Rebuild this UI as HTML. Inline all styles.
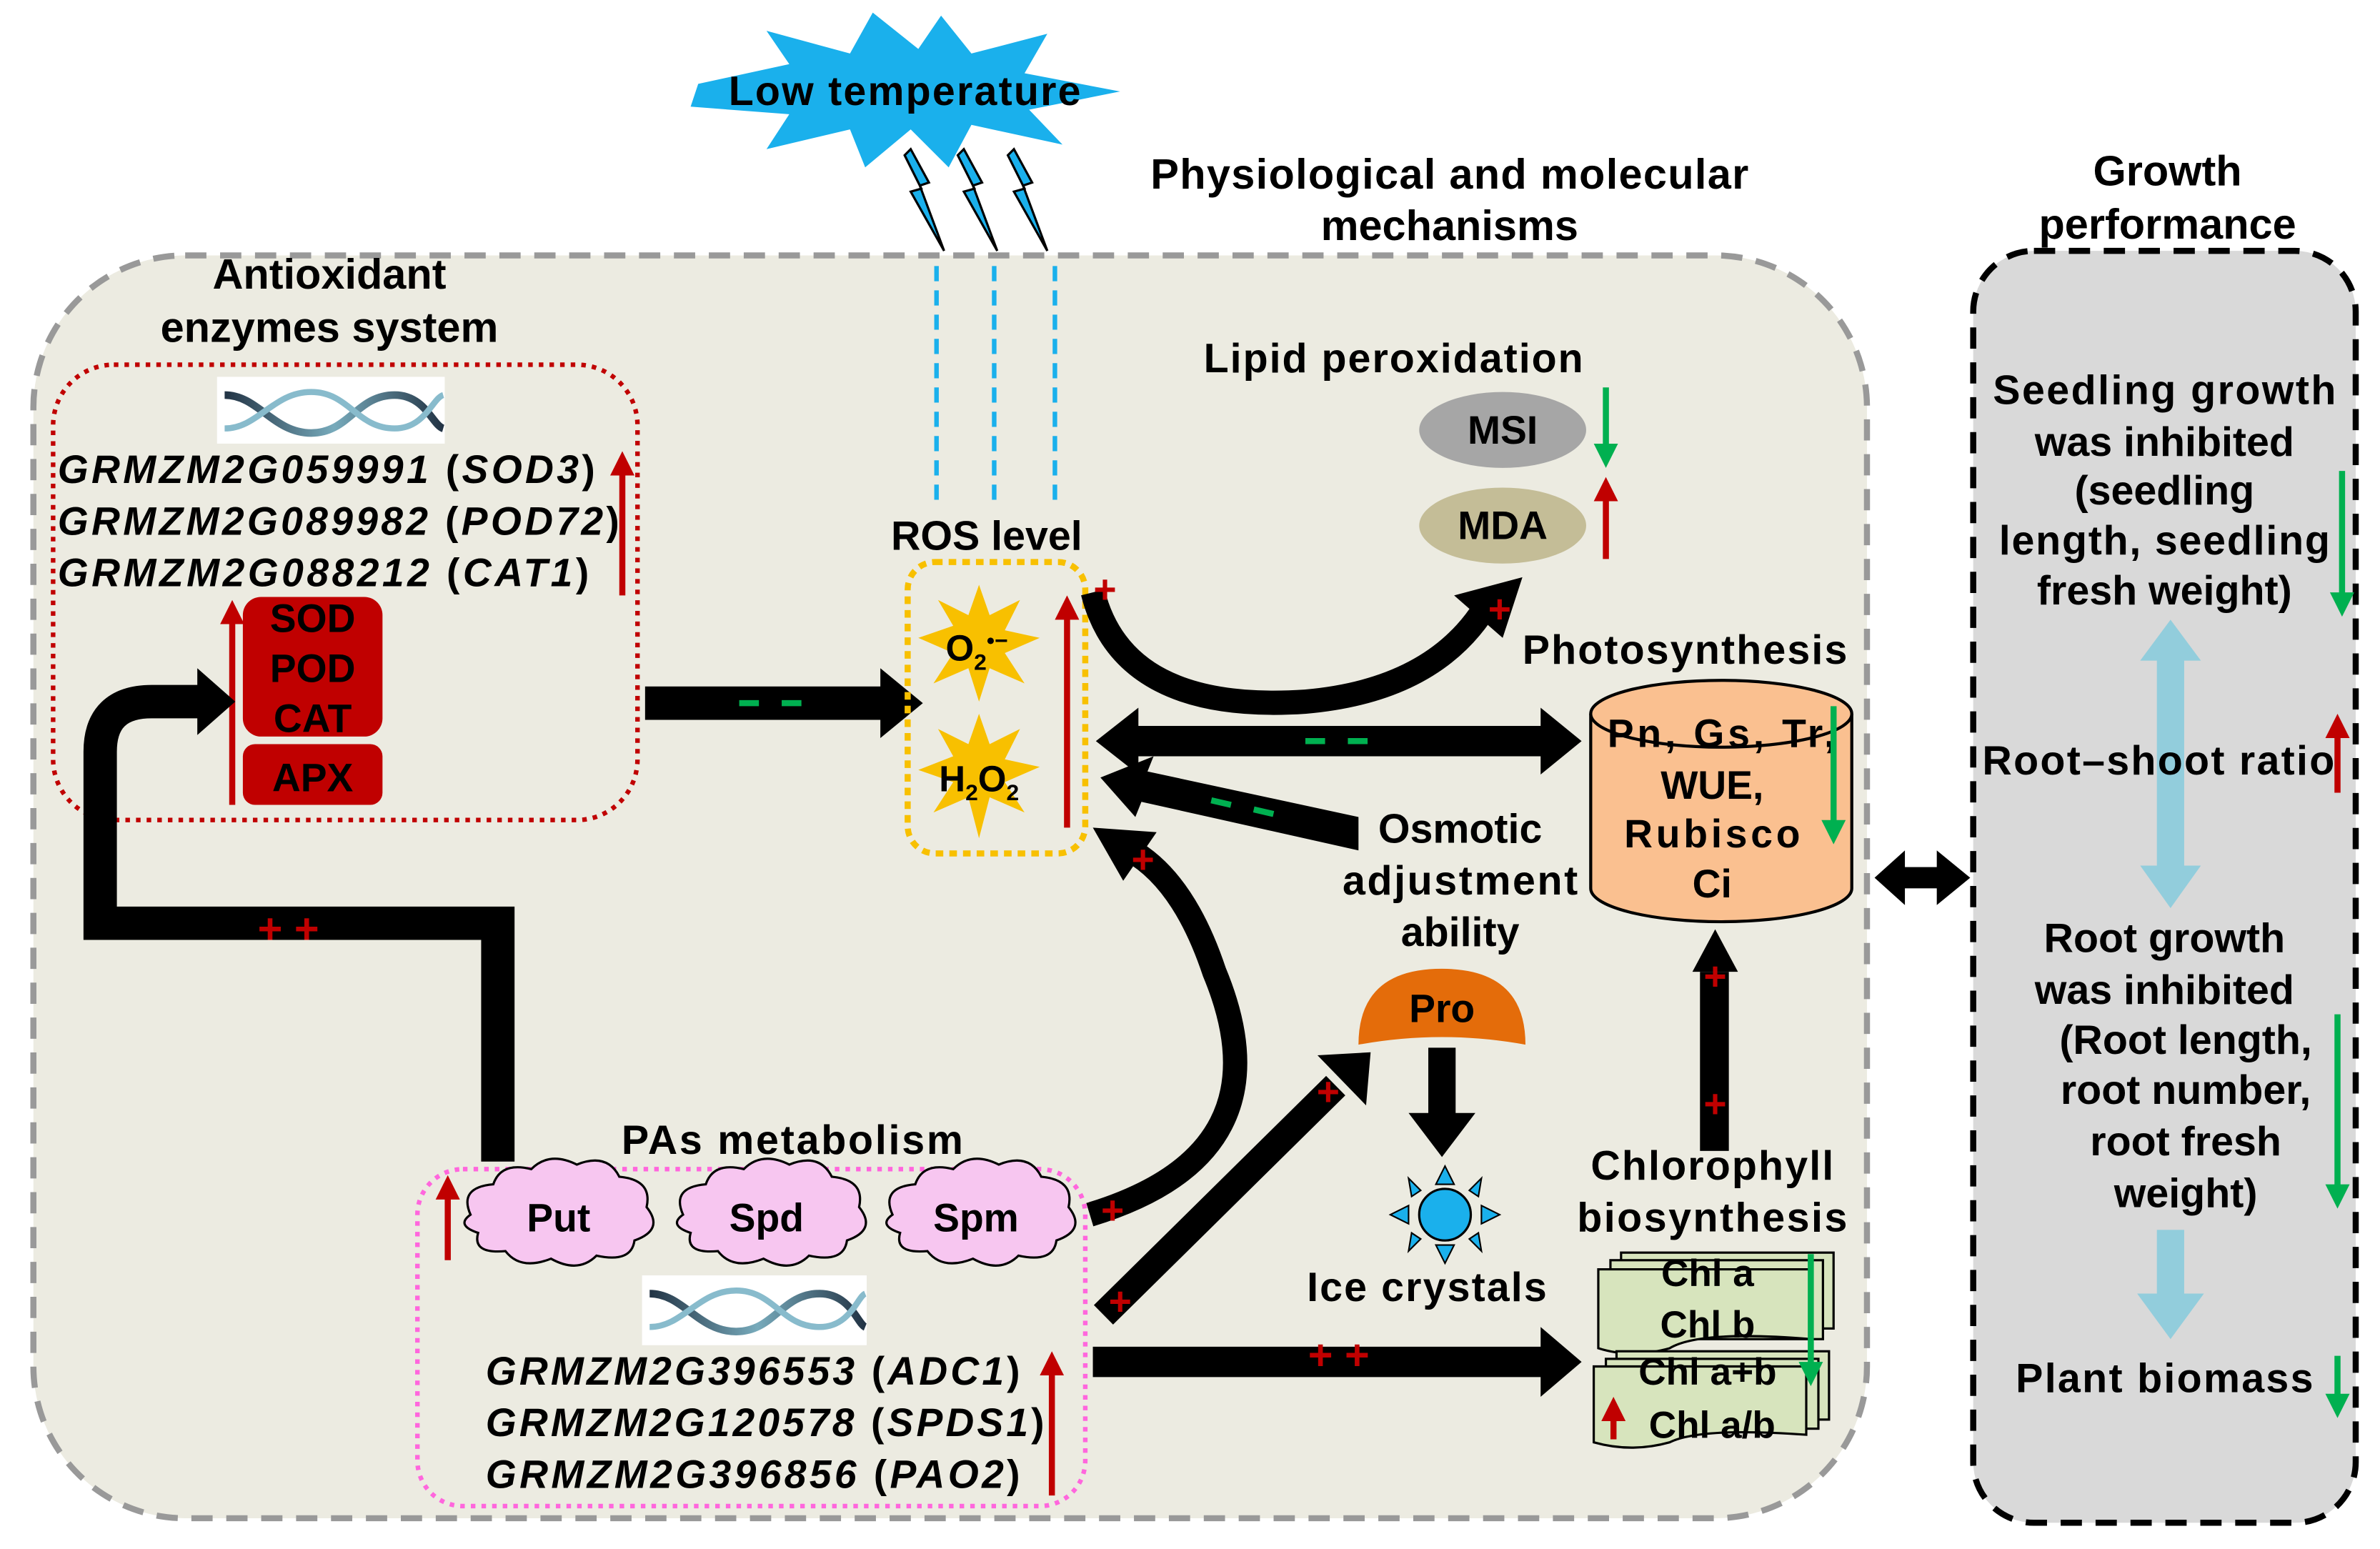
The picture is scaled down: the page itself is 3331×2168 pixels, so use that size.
<!DOCTYPE html>
<html><head><meta charset="utf-8"><style>
html,body{margin:0;padding:0;background:#fff}
svg{display:block}
text{font-family:"Liberation Sans",Arial,sans-serif;font-weight:bold;fill:#000}
</style></head><body>
<svg width="3331" height="2168" viewBox="0 0 1568 1020" xmlns="http://www.w3.org/2000/svg">
<defs>
<marker id="rh" markerWidth="4" markerHeight="4" refX="2" refY="2" orient="auto" markerUnits="strokeWidth"><path d="M0,0 L4,2 L0,4z" fill="#c00000"/></marker>
<marker id="gh" markerWidth="4" markerHeight="4" refX="2" refY="2" orient="auto" markerUnits="strokeWidth"><path d="M0,0 L4,2 L0,4z" fill="#00b050"/></marker>
<linearGradient id="dna" x1="0" x2="1"><stop offset="0" stop-color="#234"/><stop offset="0.5" stop-color="#7ab"/><stop offset="1" stop-color="#234"/></linearGradient>
</defs>
<rect x="22" y="168" width="1208" height="832" rx="100" fill="#ecebe1" stroke="#999" stroke-width="4" stroke-dasharray="14,9"/>
<rect x="1300" y="165" width="252" height="838" rx="40" fill="#d9d9d9" stroke="#000" stroke-width="4" stroke-dasharray="14,9"/>
<polygon points="460,55 520,42 505,20 560,35 575,8 605,32 620,10 640,35 690,22 675,48 738,60 678,72 700,95 640,82 625,110 600,85 570,110 560,85 505,98 520,75 455,70" fill="#1ab0ec"/>
<text x="596" y="69" font-size="27" text-anchor="middle" textLength="232">Low temperature</text>
<g fill="#1ab0ec" stroke="#000" stroke-width="1.5">
<polygon points="600,98 612,120 606,122 622,165 600,126 607,124 596,102"/>
<polygon points="635,98 647,120 641,122 657,165 635,126 642,124 631,102"/>
<polygon points="668,98 680,120 674,122 690,165 668,126 675,124 664,102"/>
</g>
<g stroke="#1ab0ec" stroke-width="3" stroke-dasharray="10,6">
<line x1="617" y1="175" x2="617" y2="330"/><line x1="655" y1="175" x2="655" y2="330"/><line x1="695" y1="175" x2="695" y2="330"/>
</g>
<text x="955" y="124" font-size="28" text-anchor="middle" textLength="394">Physiological and molecular</text>
<text x="955" y="158" font-size="28" text-anchor="middle">mechanisms</text>
<text x="1428" y="122" font-size="28" text-anchor="middle">Growth</text>
<text x="1428" y="157" font-size="28" text-anchor="middle">performance</text>
<text x="217" y="190" font-size="28" text-anchor="middle">Antioxidant</text>
<text x="217" y="225" font-size="28" text-anchor="middle">enzymes system</text>
<rect x="35" y="240" width="385" height="300" rx="40" fill="none" stroke="#c00000" stroke-width="3" stroke-dasharray="3,4"/>
<rect x="143" y="248" width="150" height="44" fill="#fff"/>
<path d="M148,260 C170,260 180,285 205,285 C230,285 235,260 260,260 C280,260 285,280 292,282" fill="none" stroke="url(#dna)" stroke-width="5"/>
<path d="M148,282 C170,282 180,258 205,258 C230,258 235,282 260,282 C280,282 285,262 292,260" fill="none" stroke="#8bc" stroke-width="4"/>
<text x="38" y="318" font-size="26" font-style="italic" textLength="354">GRMZM2G059991 <tspan font-style="normal">(</tspan>SOD3<tspan font-style="normal">)</tspan></text>
<text x="38" y="352" font-size="26" font-style="italic" textLength="370">GRMZM2G089982 <tspan font-style="normal">(</tspan>POD72<tspan font-style="normal">)</tspan></text>
<text x="38" y="386" font-size="26" font-style="italic" textLength="350">GRMZM2G088212 <tspan font-style="normal">(</tspan>CAT1<tspan font-style="normal">)</tspan></text>
<line x1="410" y1="392" x2="410" y2="305" stroke="#c00000" stroke-width="4" marker-end="url(#rh)"/>
<rect x="160" y="393" width="92" height="92" rx="12" fill="#c00000"/>
<rect x="160" y="490" width="92" height="40" rx="8" fill="#c00000"/>
<text x="206" y="416" font-size="26" text-anchor="middle">SOD</text>
<text x="206" y="449" font-size="26" text-anchor="middle">POD</text>
<text x="206" y="482" font-size="26" text-anchor="middle">CAT</text>
<text x="206" y="521" font-size="26" text-anchor="middle">APX</text>
<line x1="153" y1="530" x2="153" y2="403" stroke="#c00000" stroke-width="4" marker-end="url(#rh)"/>
<path d="M328,765 L328,608 L66,608 L66,495 Q66,462 100,462 L132,462" fill="none" stroke="#000" stroke-width="22"/>
<polygon points="130,440 155,462 130,484" fill="#000"/>
<text x="190" y="621" font-size="28" text-anchor="middle" style="fill:#c00000">+ +</text>
<rect x="425" y="452" width="160" height="22" fill="#000"/>
<polygon points="580,440 608,463 580,486" fill="#000"/>
<g stroke="#00b050" stroke-width="4"><line x1="487" y1="463" x2="500" y2="463"/><line x1="515" y1="463" x2="528" y2="463"/></g>
<text x="650" y="362" font-size="27" text-anchor="middle">ROS level</text>
<rect x="598" y="370" width="117" height="192" rx="18" fill="none" stroke="#f8c000" stroke-width="4" stroke-dasharray="5,4"/>
<polygon points="645,385 652,405 672,395 662,415 685,420 662,430 675,450 652,440 645,462 638,440 615,450 628,430 605,420 628,412 618,395 638,405" fill="#f8c000"/>
<polygon points="645,470 652,490 672,480 662,500 685,505 662,515 675,535 652,525 645,552 638,525 615,535 628,515 605,507 628,498 618,480 638,490" fill="#f8c000"/>
<text x="623" y="435" font-size="24">O<tspan font-size="15" dy="6">2</tspan><tspan font-size="15" dy="-14">•−</tspan></text>
<text x="645" y="521" font-size="24" text-anchor="middle">H<tspan font-size="15" dy="6">2</tspan><tspan dy="-6">O</tspan><tspan font-size="15" dy="6">2</tspan></text>
<line x1="703" y1="545" x2="703" y2="400" stroke="#c00000" stroke-width="4" marker-end="url(#rh)"/>
<path d="M720,390 Q740,470 860,462 Q940,455 975,405" fill="none" stroke="#000" stroke-width="16"/>
<polygon points="958,392 1003,380 990,420" fill="#000"/>
<text x="728" y="397" font-size="26" text-anchor="middle" style="fill:#c00000">+</text>
<text x="988" y="410" font-size="26" text-anchor="middle" style="fill:#c00000">+</text>
<text x="918" y="245" font-size="27" text-anchor="middle" textLength="250">Lipid peroxidation</text>
<ellipse cx="990" cy="283" rx="55" ry="25" fill="#a6a6a6"/>
<text x="990" y="292" font-size="26" text-anchor="middle">MSI</text>
<ellipse cx="990" cy="346" rx="55" ry="25" fill="#c4bd97"/>
<text x="990" y="355" font-size="26" text-anchor="middle">MDA</text>
<line x1="1058" y1="255" x2="1058" y2="300" stroke="#00b050" stroke-width="4" marker-end="url(#gh)"/>
<line x1="1058" y1="368" x2="1058" y2="322" stroke="#c00000" stroke-width="4" marker-end="url(#rh)"/>
<text x="1110" y="437" font-size="27" text-anchor="middle" textLength="214">Photosynthesis</text>
<path d="M1048,470 L1048,585 A86,22 0 0 0 1220,585 L1220,470" fill="#fac090" stroke="#000" stroke-width="2"/>
<ellipse cx="1134" cy="470" rx="86" ry="22" fill="#fac090" stroke="#000" stroke-width="2"/>
<text x="1134" y="492" font-size="26" text-anchor="middle" textLength="150">Pn, Gs, Tr,</text>
<text x="1128" y="526" font-size="26" text-anchor="middle">WUE,</text>
<text x="1128" y="558" font-size="26" text-anchor="middle" textLength="116">Rubisco</text>
<text x="1128" y="591" font-size="26" text-anchor="middle">Ci</text>
<line x1="1208" y1="465" x2="1208" y2="548" stroke="#00b050" stroke-width="4" marker-end="url(#gh)"/>
<rect x="745" y="478" width="275" height="20" fill="#000"/>
<polygon points="750,466 722,488 750,510" fill="#000"/>
<polygon points="1015,466 1042,488 1015,510" fill="#000"/>
<g stroke="#00b050" stroke-width="4"><line x1="860" y1="488" x2="873" y2="488"/><line x1="888" y1="488" x2="901" y2="488"/></g>
<polygon points="895,538 895,560 752,528 748,538 725,512 760,498 756,508" fill="#000"/>
<g stroke="#00b050" stroke-width="4"><line x1="798" y1="527" x2="811" y2="530"/><line x1="826" y1="533" x2="839" y2="536"/></g>
<text x="962" y="555" font-size="27" text-anchor="middle">Osmotic</text>
<text x="962" y="589" font-size="27" text-anchor="middle" textLength="155">adjustment</text>
<text x="962" y="623" font-size="27" text-anchor="middle">ability</text>
<rect x="1250" y="571" width="30" height="14" fill="#000"/>
<polygon points="1255,560 1235,578 1255,596" fill="#000"/>
<polygon points="1276,560 1298,578 1276,596" fill="#000"/>
<path d="M895,688 Q895,638 950,638 Q1005,638 1005,688 Q950,678 895,688z" fill="#e46c0a"/>
<text x="950" y="673" font-size="26" text-anchor="middle">Pro</text>
<rect x="941" y="690" width="18" height="45" fill="#000"/>
<polygon points="928,733 972,733 950,762" fill="#000"/>
<g fill="#1ab0ec" stroke="#000" stroke-width="1">
<polygon points="952,768 946,780 958,780"/><polygon points="952,832 946,820 958,820"/>
<polygon points="916,800 928,794 928,806"/><polygon points="988,800 976,794 976,806"/>
<polygon points="928,776 936,784 930,788"/><polygon points="976,776 968,784 974,788"/>
<polygon points="928,824 936,816 930,812"/><polygon points="976,824 968,816 974,812"/>
</g>
<circle cx="952" cy="800" r="17" fill="#1ab0ec" stroke="#000" stroke-width="1.5"/>
<text x="940" y="857" font-size="27" text-anchor="middle" textLength="158">Ice crystals</text>
<path d="M718,800 Q850,760 800,640 Q780,580 745,560" fill="none" stroke="#000" stroke-width="16"/>
<polygon points="720,545 762,548 740,580" fill="#000"/>
<text x="753" y="575" font-size="26" text-anchor="middle" style="fill:#c00000">+</text>
<text x="733" y="806" font-size="26" text-anchor="middle" style="fill:#c00000">+</text>
<line x1="727" y1="866" x2="880" y2="715" stroke="#000" stroke-width="18"/>
<polygon points="868,695 903,693 900,728" fill="#000"/>
<text x="738" y="866" font-size="26" text-anchor="middle" style="fill:#c00000">+</text>
<text x="875" y="728" font-size="26" text-anchor="middle" style="fill:#c00000">+</text>
<rect x="720" y="887" width="300" height="20" fill="#000"/>
<polygon points="1015,874 1042,897 1015,920" fill="#000"/>
<text x="882" y="902" font-size="28" text-anchor="middle" style="fill:#c00000">+ +</text>
<rect x="1120" y="640" width="19" height="118" fill="#000"/>
<polygon points="1115,640 1130,612 1145,640" fill="#000"/>
<text x="1130" y="652" font-size="26" text-anchor="middle" style="fill:#c00000">+</text>
<text x="1130" y="736" font-size="26" text-anchor="middle" style="fill:#c00000">+</text>
<text x="1128" y="777" font-size="27" text-anchor="middle" textLength="160">Chlorophyll</text>
<text x="1128" y="811" font-size="27" text-anchor="middle" textLength="178">biosynthesis</text>
<g fill="#d7e4bd" stroke="#000" stroke-width="1.5">
<rect x="1068" y="825" width="140" height="50"/><rect x="1061" y="830" width="140" height="52"/>
<path d="M1053,836 L1193,836 L1193,882 Q1120,876 1100,888 Q1075,895 1053,888z"/>
<rect x="1065" y="890" width="140" height="45"/><rect x="1058" y="895" width="140" height="46"/>
<path d="M1050,900 L1190,900 L1190,945 Q1120,940 1100,950 Q1075,957 1050,950z"/>
</g>
<text x="1125" y="847" font-size="25" text-anchor="middle">Chl a</text>
<text x="1125" y="881" font-size="25" text-anchor="middle">Chl b</text>
<text x="1125" y="912" font-size="25" text-anchor="middle">Chl a+b</text>
<text x="1128" y="947" font-size="25" text-anchor="middle">Chl a/b</text>
<line x1="1063" y1="948" x2="1063" y2="928" stroke="#c00000" stroke-width="4" marker-end="url(#rh)"/>
<line x1="1193" y1="826" x2="1193" y2="905" stroke="#00b050" stroke-width="4" marker-end="url(#gh)"/>
<text x="522" y="760" font-size="27" text-anchor="middle" textLength="225">PAs metabolism</text>
<rect x="275" y="770" width="440" height="222" rx="30" fill="none" stroke="#ff66dd" stroke-width="3" stroke-dasharray="3,4"/>
<g fill="#f7c6f0" stroke="#000" stroke-width="1.5">
<path d="M310,800 q-8,-18 15,-20 q5,-15 25,-10 q12,-12 30,-3 q20,-8 28,8 q22,2 18,20 q12,15 -8,22 q-2,15 -25,10 q-12,12 -30,2 q-20,8 -30,-5 q-22,2 -18,-12 q-15,-5 -5,-12z"/>
<path d="M450,800 q-8,-18 15,-20 q5,-15 25,-10 q12,-12 30,-3 q20,-8 28,8 q22,2 18,20 q12,15 -8,22 q-2,15 -25,10 q-12,12 -30,2 q-20,8 -30,-5 q-22,2 -18,-12 q-15,-5 -5,-12z"/>
<path d="M588,800 q-8,-18 15,-20 q5,-15 25,-10 q12,-12 30,-3 q20,-8 28,8 q22,2 18,20 q12,15 -8,22 q-2,15 -25,10 q-12,12 -30,2 q-20,8 -30,-5 q-22,2 -18,-12 q-15,-5 -5,-12z"/>
</g>
<text x="368" y="811" font-size="26" text-anchor="middle">Put</text>
<text x="505" y="811" font-size="26" text-anchor="middle">Spd</text>
<text x="643" y="811" font-size="26" text-anchor="middle">Spm</text>
<line x1="295" y1="830" x2="295" y2="782" stroke="#c00000" stroke-width="4" marker-end="url(#rh)"/>
<rect x="423" y="840" width="148" height="46" fill="#fff"/>
<path d="M428,852 C450,852 460,877 485,877 C510,877 515,852 540,852 C560,852 565,872 570,874" fill="none" stroke="url(#dna)" stroke-width="5"/>
<path d="M428,874 C450,874 460,850 485,850 C510,850 515,874 540,874 C560,874 565,854 570,852" fill="none" stroke="#8bc" stroke-width="4"/>
<text x="320" y="912" font-size="26" font-style="italic" textLength="352">GRMZM2G396553 <tspan font-style="normal">(</tspan>ADC1<tspan font-style="normal">)</tspan></text>
<text x="320" y="946" font-size="26" font-style="italic" textLength="368">GRMZM2G120578 <tspan font-style="normal">(</tspan>SPDS1<tspan font-style="normal">)</tspan></text>
<text x="320" y="980" font-size="26" font-style="italic" textLength="352">GRMZM2G396856 <tspan font-style="normal">(</tspan>PAO2<tspan font-style="normal">)</tspan></text>
<line x1="693" y1="985" x2="693" y2="898" stroke="#c00000" stroke-width="4" marker-end="url(#rh)"/>
<text x="1426" y="266" font-size="27" text-anchor="middle" textLength="226">Seedling growth</text>
<text x="1426" y="300" font-size="27" text-anchor="middle">was inhibited</text>
<text x="1426" y="332" font-size="27" text-anchor="middle">(seedling</text>
<text x="1426" y="365" font-size="27" text-anchor="middle" textLength="218">length, seedling</text>
<text x="1426" y="398" font-size="27" text-anchor="middle">fresh weight)</text>
<line x1="1543" y1="310" x2="1543" y2="398" stroke="#00b050" stroke-width="4" marker-end="url(#gh)"/>
<g fill="#92cddc">
<rect x="1421" y="430" width="18" height="145"/>
<polygon points="1410,435 1430,408 1450,435"/><polygon points="1410,570 1430,598 1450,570"/>
<rect x="1421" y="810" width="18" height="45"/>
<polygon points="1408,852 1430,882 1452,852"/>
</g>
<text x="1422" y="510" font-size="27" text-anchor="middle" textLength="232">Root–shoot ratio</text>
<line x1="1540" y1="522" x2="1540" y2="478" stroke="#c00000" stroke-width="4" marker-end="url(#rh)"/>
<text x="1426" y="627" font-size="27" text-anchor="middle">Root growth</text>
<text x="1426" y="661" font-size="27" text-anchor="middle">was inhibited</text>
<text x="1440" y="694" font-size="27" text-anchor="middle">(Root length,</text>
<text x="1440" y="727" font-size="27" text-anchor="middle">root number,</text>
<text x="1440" y="761" font-size="27" text-anchor="middle">root fresh</text>
<text x="1440" y="795" font-size="27" text-anchor="middle">weight)</text>
<line x1="1540" y1="668" x2="1540" y2="788" stroke="#00b050" stroke-width="4" marker-end="url(#gh)"/>
<text x="1426" y="917" font-size="27" text-anchor="middle" textLength="196">Plant biomass</text>
<line x1="1540" y1="893" x2="1540" y2="926" stroke="#00b050" stroke-width="4" marker-end="url(#gh)"/>
</svg>
</body></html>
